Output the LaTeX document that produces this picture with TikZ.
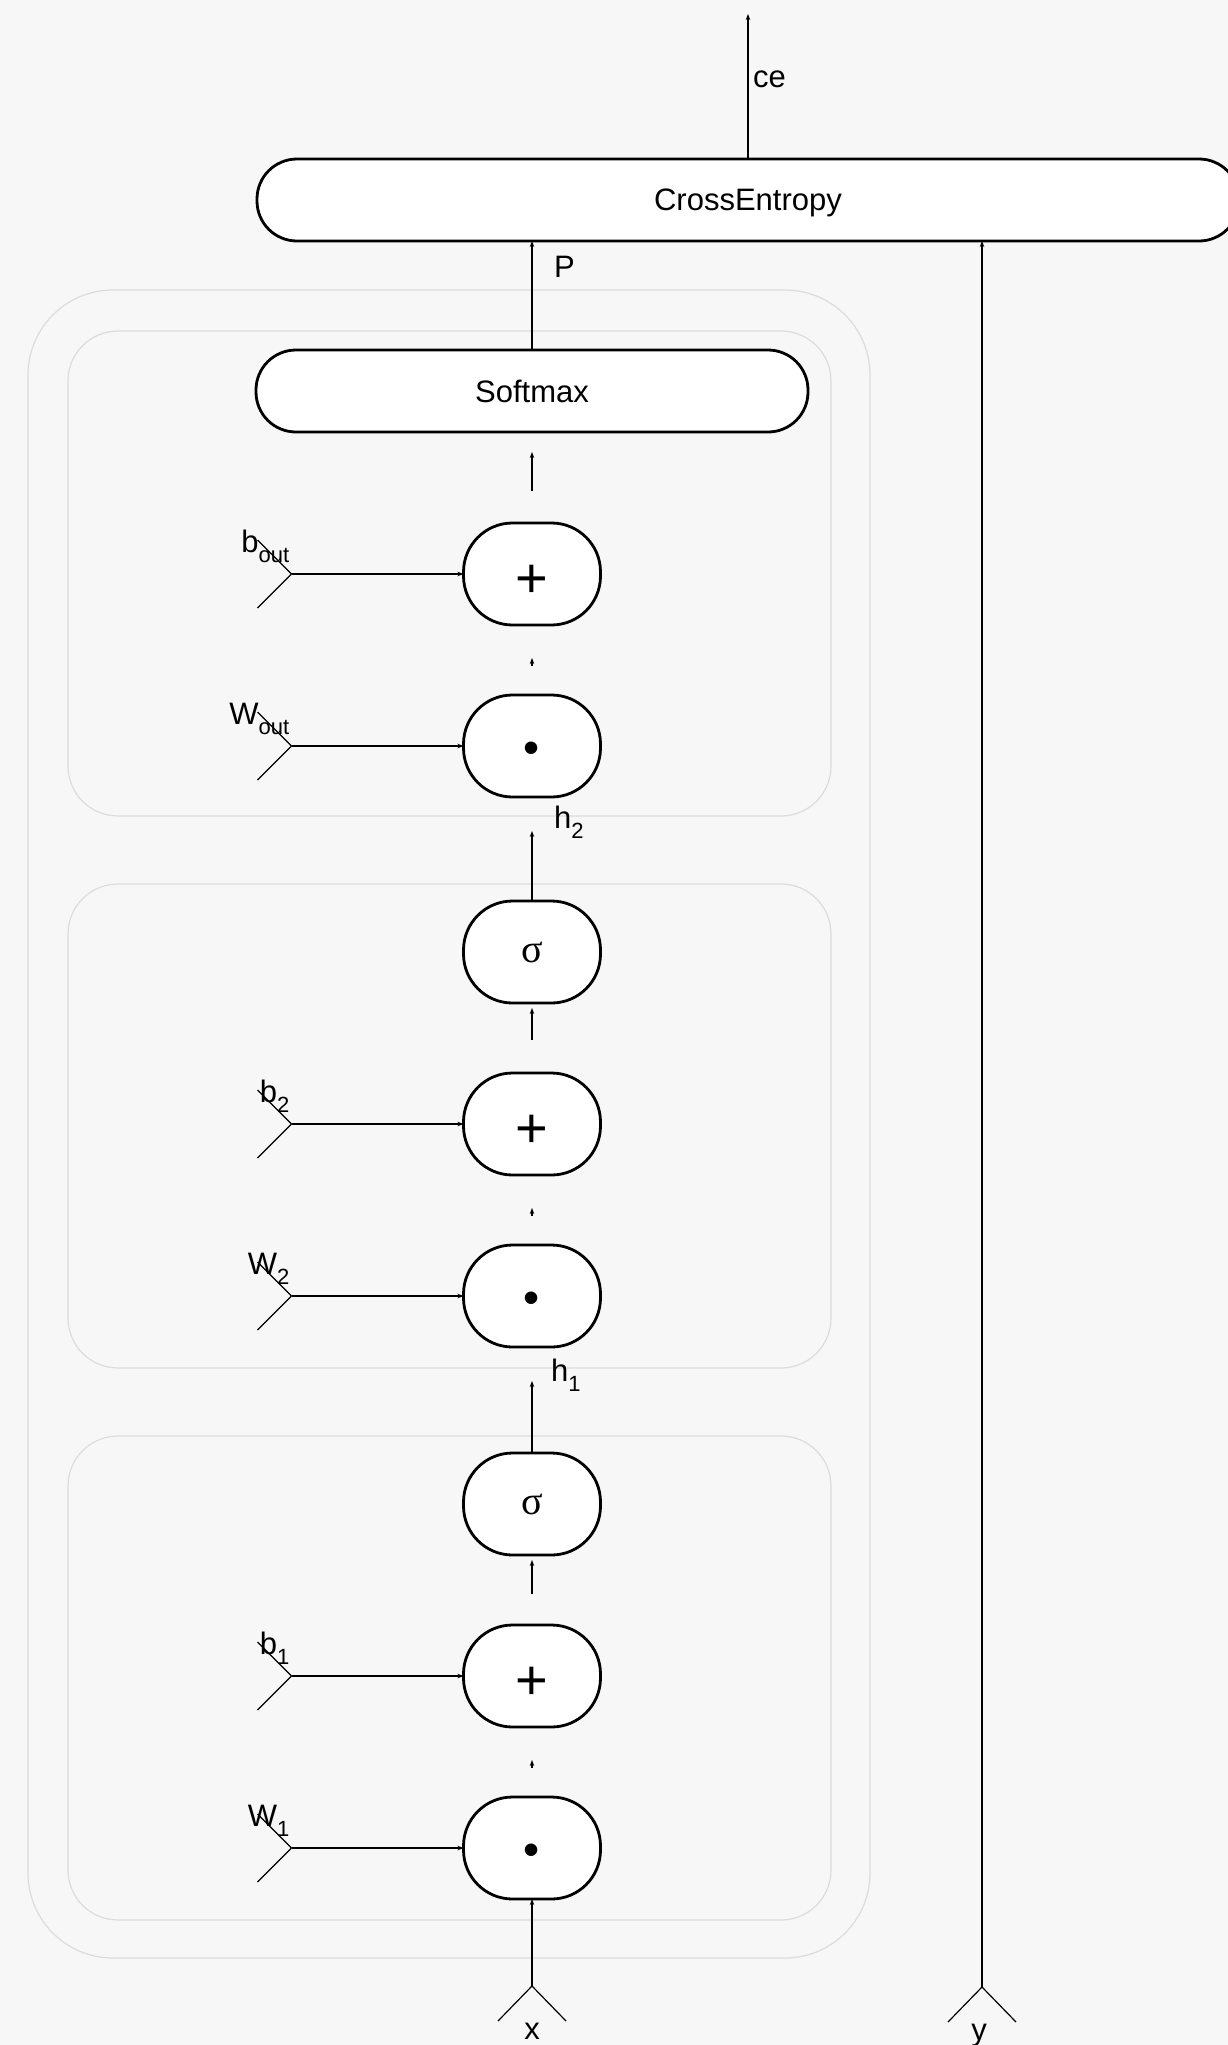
\documentclass[tikz,border=0pt]{standalone}
\usepackage{fontspec}
\setmainfont{Liberation Sans}
\newfontfamily\serifgr{Liberation Serif}
\usetikzlibrary{positioning,arrows.meta}
\definecolor{bg}{HTML}{F7F7F7}
\definecolor{grpline}{HTML}{DCDCDC}
\newcommand{\lsub}[1]{\raisebox{-10pt}{\fontsize{22}{24}\selectfont #1}}
\newcommand{\lowered}[1]{\raisebox{-7pt}[\height][0pt]{#1}}

\begin{document}
\begin{tikzpicture}[
  x=1pt,y=-1pt,
  >={Stealth[length=6pt,width=4.5pt]},
  op/.style={draw,line width=2.8pt,rounded corners=49pt,fill=white,
             minimum width=137pt,minimum height=102pt,inner sep=0pt,outer sep=0pt,
             font=\fontsize{31}{36}\selectfont},
  mul/.style={op,font=\fontsize{46}{50}\selectfont},
  add/.style={op,font=\fontsize{56}{60}\selectfont},
  sig/.style={op,font=\serifgr\fontsize{40}{44}\selectfont},
  bar/.style={draw,line width=2.8pt,rounded corners=40pt,fill=white,outer sep=0pt,
              minimum height=82pt,text depth=0pt,font=\fontsize{31}{36}\selectfont},
  grp/.style={draw=grpline,line width=1.2pt},
  lbl/.style={inner sep=0pt,font=\fontsize{31}{36}\selectfont},
  wire/.style={line width=1.2pt},
  node distance=70pt
]
\fill[bg] (0,0) rectangle (1228,2045);
\useasboundingbox (0,0) rectangle (1228,2045);

% nesting of the layers
\draw[grp,rounded corners=85pt] (28,290) rectangle (870,1958);
\draw[grp,rounded corners=50pt] (68,331) rectangle (831,816);
\draw[grp,rounded corners=50pt] (68,884) rectangle (831,1368);
\draw[grp,rounded corners=50pt] (68,1436) rectangle (831,1920);

\node[mul] (D1) at (532,1848) {\lowered{•}};
\node[add,above=of D1] (A1) {\lowered{+}};
\node[sig,above=of A1] (G1) {σ};
\node[mul,above=106pt of G1] (D2) {\lowered{•}};
\node[add,above=of D2] (A2) {\lowered{+}};
\node[sig,above=of A2] (G2) {σ};
\node[mul,above=104pt of G2] (Do) {\lowered{•}};
\node[add,above=of Do] (Ao) {\lowered{+}};
\node[bar,minimum width=552pt,above=91pt of Ao] (S) {Softmax};
\node[bar,minimum width=982pt] (CE) at (748,200) {CrossEntropy};

\coordinate (ceo) at (748,14);
\coordinate[below=87pt of D1] (px);
\coordinate (py) at (982,1987);

\draw[->,wire] (CE.north) -- (ceo);
\draw[->,wire] (S.north) -- (S.north |- CE.south);
\draw[->,wire,shorten <=32pt,shorten >=20pt] (Ao) -- (S);
\draw[->,wire,shorten >=34pt] (G2) -- (Do);
\draw[->,wire,shorten <=33pt,shorten >=5pt] (A2) -- (G2);
\draw[->,wire,shorten >=34pt] (G1) -- (D2);
\draw[->,wire,shorten <=31pt,shorten >=5pt] (A1) -- (G1);
\foreach \a/\b in {D1/A1,D2/A2,Do/Ao}
  \draw[->,wire,shorten <=29pt,shorten >=33pt] (\a) -- (\b);

% parameter inputs
\foreach \n/\txt in {D1/W\lsub{1},A1/b\lsub{1},D2/W\lsub{2},A2/b\lsub{2},Do/W\lsub{out},Ao/b\lsub{out}}{
  \coordinate[left=172pt of \n] (p\n);
  \draw[wire] (p\n) -- ++(-34pt,34pt) (p\n) -- ++(-34pt,-34pt);
  \draw[->,wire] (p\n) -- (\n);
  \node[lbl,above left=11pt and 2pt of p\n] (l\n) {\txt};
}

% data inputs
\draw[wire] (px) -- ++(-34pt,-35pt) (px) -- ++(34pt,-35pt);
\draw[wire] (py) -- ++(-34pt,-35pt) (py) -- ++(34pt,-35pt);
\draw[->,wire] (px) -- (D1);
\draw[->,wire] (py) -- (py |- CE.south);
\node[lbl,below=37pt of px] (lx) {x};
\node[lbl,below=37pt of py,xshift=-3pt] (ly) {y};

\node[lbl,anchor=base west] (lce) at (753,87) {ce};
\node[lbl,anchor=base west] (lP) at (554,277) {P};
\node[lbl,anchor=base west] (lh2) at (554,828) {h\lsub{2}};
\node[lbl,anchor=base west] (lh1) at (551,1381) {h\lsub{1}};
\end{tikzpicture}
\end{document}
